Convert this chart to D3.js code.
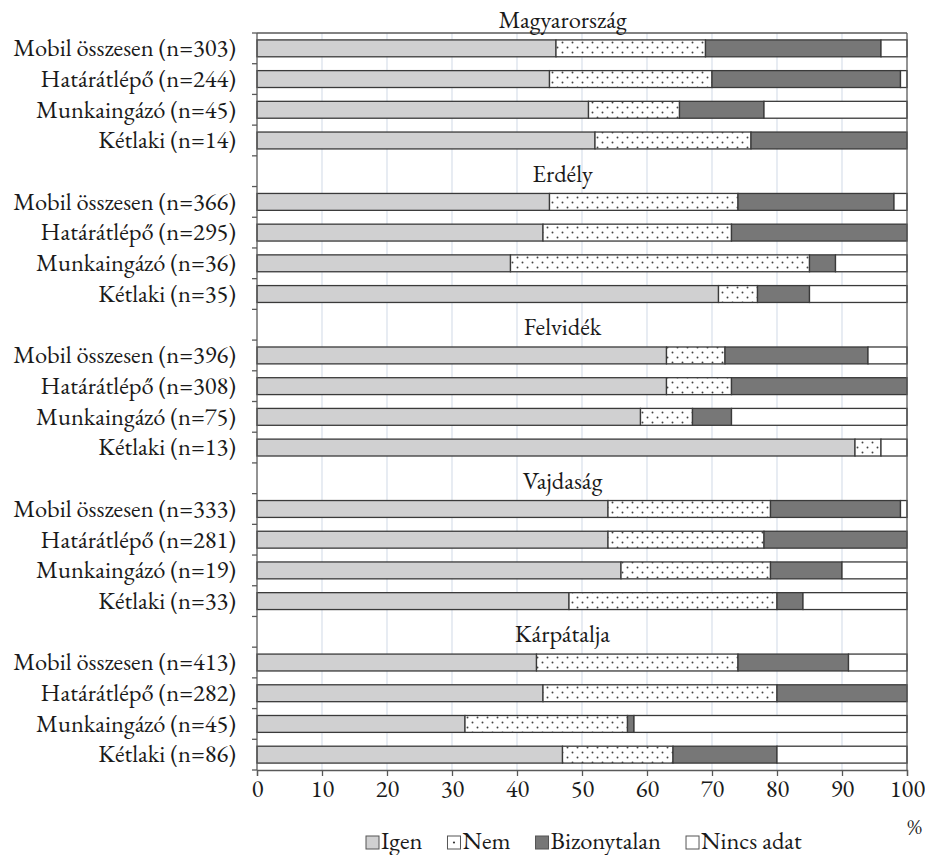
<!DOCTYPE html>
<html><head><meta charset="utf-8">
<script src="https://cdn.jsdelivr.net/npm/d3@7"></script>
</head>
<body style="margin:0;background:#fff">
<svg id="chart" width="925" height="855"></svg>
<script>
const groups = ["Magyarország","Erdély","Felvidék","Vajdaság","Kárpátalja"];
const categories = ["Mobil összesen","Határátlépő","Munkaingázó","Kétlaki"];
const nValues = [[303,244,45,14],[366,295,36,35],[396,308,75,13],[333,281,19,33],[413,282,45,86]];
const series = ["Igen","Nem","Bizonytalan","Nincs adat"];
const igen        = [46,45,51,52, 45,44,39,71, 63,63,59,92, 54,54,56,48, 43,44,32,47];
const nem         = [23,25,14,24, 29,29,46,6,  9,10,8,4,    25,24,23,32, 31,36,25,17];
const bizonytalan = [27,29,13,24, 24,27,4,8,   22,27,6,0,   20,22,11,4,  17,20,1,16];
const nincsAdat   = [4,1,22,0,    2,0,11,15,   6,0,27,4,    1,0,10,16,   9,0,42,20];
const xTicks = [0,10,20,30,40,50,60,70,80,90,100];

const FONT = '"EB Garamond","Liberation Serif",serif';
const FS = 24.5;
const TXT = "#1a1a1a";
const svg = d3.select("#chart").attr("font-family",FONT);
const W = 925, H = 855;
const m = {left:257, right:18, top:33, bottom:85};

const rows = [];
groups.forEach((g,gi)=>{
  if(gi>0) rows.push({key:"gap"+gi, gap:true, group:g});
  categories.forEach((c,ci)=>{
    const idx = gi*4+ci;
    rows.push({key:g+"|"+c, gap:false, group:g,
      label:`${c} (n=${nValues[gi][ci]})`,
      vals:[igen[idx],nem[idx],bizonytalan[idx],nincsAdat[idx]]});
  });
});

const x = d3.scaleLinear().domain([0,100]).range([m.left, W-m.right]);
const y = d3.scaleBand().domain(rows.map(r=>r.key)).range([m.top, H-m.bottom]).paddingInner(0.45).paddingOuter(0.225);
const step = y.step();
const fills = ["#d0d0d1","url(#dots)","#777777","#ffffff"];

const defs = svg.append("defs");
const pat = defs.append("pattern").attr("id","dots").attr("patternUnits","userSpaceOnUse")
  .attr("width",10).attr("height",10);
pat.append("rect").attr("width",10).attr("height",10).attr("fill","#fff");
pat.append("circle").attr("cx",2.5).attr("cy",2.5).attr("r",0.95).attr("fill","#444");
pat.append("circle").attr("cx",7.5).attr("cy",7.5).attr("r",0.95).attr("fill","#444");

svg.append("g").selectAll("line").data(xTicks.filter(t=>t>0&&t<100)).join("line")
  .attr("x1",d=>x(d)).attr("x2",d=>x(d)).attr("y1",m.top).attr("y2",H-m.bottom)
  .attr("stroke","#dbe2ec").attr("stroke-width",1.3);

const barG = svg.append("g");
rows.filter(r=>!r.gap).forEach(r=>{
  let acc=0;
  const segs = r.vals.map((v,i)=>{const s={x0:acc,x1:acc+v,i}; acc+=v; return s;}).filter(s=>s.x1>s.x0);
  barG.selectAll(null).data(segs).join("rect")
    .attr("x",d=>x(d.x0)).attr("width",d=>x(d.x1)-x(d.x0))
    .attr("y",y(r.key)).attr("height",y.bandwidth())
    .attr("fill",d=>fills[d.i]).attr("stroke","#3a3a3a").attr("stroke-width",1.3);
});

svg.append("line").attr("x1",m.left).attr("x2",W-m.right).attr("y1",m.top).attr("y2",m.top).attr("stroke","#595959").attr("stroke-width",1.3);
svg.append("line").attr("x1",W-m.right).attr("x2",W-m.right).attr("y1",m.top).attr("y2",H-m.bottom).attr("stroke","#595959").attr("stroke-width",1.3);

const boundaries = rows.map(r=>y(r.key)-(step-y.bandwidth())/2);
boundaries.push(H-m.bottom);
svg.append("line").attr("x1",m.left).attr("x2",m.left).attr("y1",m.top).attr("y2",H-m.bottom).attr("stroke","#595959").attr("stroke-width",1.3);
svg.append("g").selectAll("line").data(boundaries).join("line")
  .attr("x1",m.left-5).attr("x2",m.left).attr("y1",d=>d).attr("y2",d=>d)
  .attr("stroke","#595959").attr("stroke-width",1.3);

svg.append("g").selectAll("text").data(rows.filter(r=>!r.gap)).join("text")
  .attr("x",m.left-21).attr("y",r=>y(r.key)+y.bandwidth()/2).attr("dy","0.32em")
  .attr("text-anchor","end").attr("font-size",FS).attr("font-family",FONT).attr("fill",TXT).text(r=>r.label);

groups.forEach((g,gi)=>{
  const firstKey = rows.find(r=>r.group===g && !r.gap).key;
  const bottomOfTitleBand = y(firstKey)-(step-y.bandwidth())/2;
  svg.append("text").attr("x",x(47)).attr("y",bottomOfTitleBand-5)
    .attr("text-anchor","middle").attr("font-size",FS).attr("font-family",FONT).attr("fill",TXT).text(g);
});

const xAxis = d3.axisBottom(x).tickValues(xTicks).tickSize(6).tickPadding(4).tickFormat(d3.format("d"));
const ax = svg.append("g").attr("transform",`translate(0,${H-m.bottom})`).call(xAxis).attr("font-family",FONT);
ax.select(".domain").attr("stroke","#595959").attr("stroke-width",1.3);
ax.selectAll(".tick line").attr("stroke","#595959").attr("stroke-width",1.3);
ax.selectAll(".tick text").attr("font-size",FS).attr("font-family",FONT).attr("fill",TXT);

svg.append("text").attr("x",W-3).attr("y",H-m.bottom+64).attr("text-anchor","end")
  .attr("font-size",FS-2).attr("font-family",FONT).attr("fill",TXT).text("%");

const lg = svg.append("g");
let lx = 366; const ly = 849;
series.forEach((s,i)=>{
  lg.append("rect").attr("x",lx).attr("y",ly-13).attr("width",13).attr("height",13)
    .attr("fill",i===1?"#fff":fills[i]).attr("stroke","#555").attr("stroke-width",1);
  if(i===1) lg.append("circle").attr("cx",lx+6.5).attr("cy",ly-6.5).attr("r",1.1).attr("fill","#333");
  const t = lg.append("text").attr("x",lx+15).attr("y",ly).attr("font-size",FS)
    .attr("font-family",FONT).attr("fill",TXT).text(s);
  lx += 15 + t.node().getComputedTextLength() + 25;
});
</script>
</body></html>
